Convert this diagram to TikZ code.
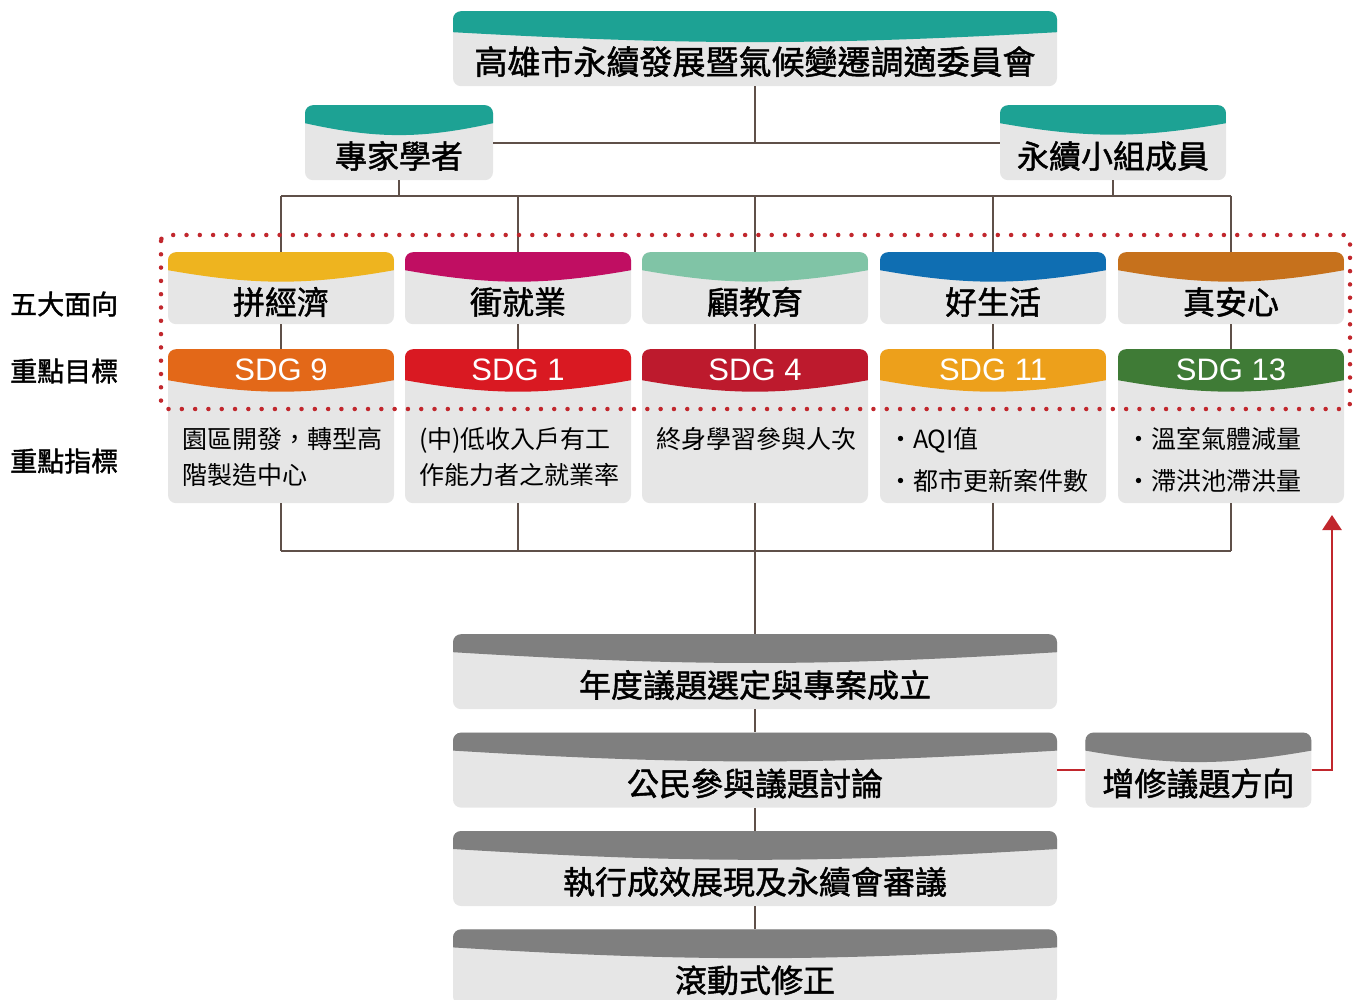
\documentclass[tikz,border=0pt]{standalone}
\usepackage{fontspec}
\setmainfont{Noto Sans CJK TC}
\newfontfamily\headfont[FakeBold=1.4]{Noto Sans CJK TC}
\newfontfamily\sdgfont{Liberation Sans}
\usetikzlibrary{positioning,arrows.meta}

\definecolor{boxgray}{HTML}{E6E6E6}
\definecolor{capteal}{HTML}{1DA294}
\definecolor{capgray}{HTML}{7F7F7F}
\definecolor{linebrown}{HTML}{5F5049}
\definecolor{fbred}{HTML}{C1272D}
\definecolor{econ}{HTML}{EEB41F}
\definecolor{jobs}{HTML}{C00E62}
\definecolor{edu}{HTML}{80C4A6}
\definecolor{life}{HTML}{0F6EB2}
\definecolor{safe}{HTML}{C6711C}
\definecolor{sdgnine}{HTML}{E36818}
\definecolor{sdgone}{HTML}{D91922}
\definecolor{sdgfour}{HTML}{BD1A2D}
\definecolor{sdgeleven}{HTML}{EDA01B}
\definecolor{sdgthirteen}{HTML}{3F7B36}

\tikzset{
  capbox/.style n args={3}{fill=boxgray, rounded corners=8pt, inner sep=0pt,
    path picture={\fill[#1, sharp corners]
      (path picture bounding box.north west) -- (path picture bounding box.north east)
      -- ([yshift=-#2pt]path picture bounding box.north east)
      to[bend left=#3] ([yshift=-#2pt]path picture bounding box.north west) -- cycle;}},
  headtext/.style n args={3}{font=\headfont\fontsize{#1}{#1}\selectfont,
    text height=#2pt, text depth=#3pt},
  procbox/.style={capbox={capgray}{18}{3.5}, headtext={32}{63}{12}, minimum width=604pt},
  indic/.style={font=\fontsize{25}{36}\selectfont, align=left, inner sep=0pt, anchor=base west},
  sidelab/.style={font=\headfont\fontsize{27}{27}\selectfont, inner sep=0pt, anchor=west},
  conn/.style={draw=linebrown, line width=2pt},
  fb/.style={draw=fbred, line width=2.5pt},
  focus/.style={draw=fbred, line width=4.5pt, line cap=round,
    dash pattern=on 0pt off 13.3pt, rounded corners=6pt}
}

\begin{document}
\begin{tikzpicture}[x=1pt, y=-1pt]
  \useasboundingbox (0,0) rectangle (1360,1000);

  % committee and its two groups
  \node[capbox={capteal}{21}{3.2}, headtext={33}{63}{12}, minimum width=604pt, anchor=north]
    (committee) at (755,11) {高雄市永續發展暨氣候變遷調適委員會};
  \node[capbox={capteal}{18}{12.5}, headtext={32}{63}{12}, minimum width=188pt, anchor=north]
    (expert) at (399,105) {專家學者};
  \node[capbox={capteal}{18}{10}, headtext={32}{63}{12}, minimum width=226pt, anchor=north]
    (members) at (1113,105) {永續小組成員};

  % five aspects and their SDGs
  \foreach \i/\x/\name/\col in {1/281/拼經濟/econ, 2/518/衝就業/jobs, 3/755/顧教育/edu,
                                4/993/好生活/life, 5/1231/真安心/safe}
  {
    \node[capbox={\col}{18}{10}, headtext={32}{62}{10}, minimum width=226pt, anchor=north]
      (cat\i) at (\x,252) {\name};
  }
  \foreach \i/\x/\num/\col in {1/281/9/sdgnine, 2/518/1/sdgone, 3/755/4/sdgfour,
                               4/993/11/sdgeleven, 5/1231/13/sdgthirteen}
  {
    \node[capbox={\col}{31}{10}, minimum width=226pt, anchor=north, text=white,
      font=\sdgfont\fontsize{31}{31}\selectfont, text height=31pt, text depth=123pt]
      (sdg\i) at (\x,349) {SDG \num};
  }

  % key indicators (base = last line)
  \node[indic] (ind1) at ([xshift=14pt,yshift=-135pt]sdg1.north west) {園區開發，轉型高\\階製造中心};
  \node[indic] (ind2) at ([xshift=14pt,yshift=-135pt]sdg2.north west) {(中)低收入戶有工\\作能力者之就業率};
  \node[indic] (ind3) at ([xshift=14pt,yshift=-99pt]sdg3.north west) {終身學習參與人次};
  \node[indic] (ind4) at ([xshift=8pt,yshift=-141pt]sdg4.north west) {・AQI值\\[6pt]・都市更新案件數};
  \node[indic] (ind5) at ([xshift=8pt,yshift=-141pt]sdg5.north west) {・溫室氣體減量\\[6pt]・滯洪池滯洪量};

  % row labels
  \node[sidelab] (labaspect) at (10,304) {五大面向};
  \node[sidelab] (labgoal) at (10,371) {重點目標};
  \node[sidelab] (labindic) at (10,461) {重點指標};

  % yearly process
  \node[procbox, anchor=north] (proc1) at (755,634) {年度議題選定與專案成立};
  \node[procbox, below=23pt of proc1] (proc2) {公民參與議題討論};
  \node[procbox, below=23pt of proc2] (proc3) {執行成效展現及永續會審議};
  \node[procbox, below=23pt of proc3] (proc4) {滾動式修正};
  \node[capbox={capgray}{18}{10}, headtext={32}{63}{12}, minimum width=226pt,
    right=28pt of proc2] (revise) {增修議題方向};

  % connectors
  \coordinate (topbus) at (0,196);
  \coordinate (botbus) at (0,551);
  \coordinate (fbtip) at (1332,515);
  \draw[conn] (committee.south) -- (committee.south |- expert.east);
  \draw[conn] (expert.east) -- (members.west);
  \draw[conn] (expert.south) -- (expert.south |- topbus);
  \draw[conn] (members.south) -- (members.south |- topbus);
  \draw[conn] (cat1.north |- topbus) -- (cat5.north |- topbus);
  \draw[conn] (sdg1.south |- botbus) -- (sdg5.south |- botbus);
  \foreach \i in {1,...,5}
  {
    \draw[conn] (cat\i.north |- topbus) -- (cat\i.north);
    \draw[conn] (cat\i.south) -- (sdg\i.north);
    \draw[conn] (sdg\i.south) -- (sdg\i.south |- botbus);
  }
  \draw[conn] (sdg3.south |- botbus) -- (proc1.north);
  \draw[conn] (proc1.south) -- (proc2.north);
  \draw[conn] (proc2.south) -- (proc3.north);
  \draw[conn] (proc3.south) -- (proc4.north);

  % feedback loop
  \draw[fb] (proc2.east) -- (revise.west);
  \draw[fb, -{Triangle[width=19pt,length=15pt]}] (revise.east) -| (fbtip);

  % focus frame round aspects and goals
  \draw[focus] (161,235) rectangle (1350,409);
\end{tikzpicture}
\end{document}
